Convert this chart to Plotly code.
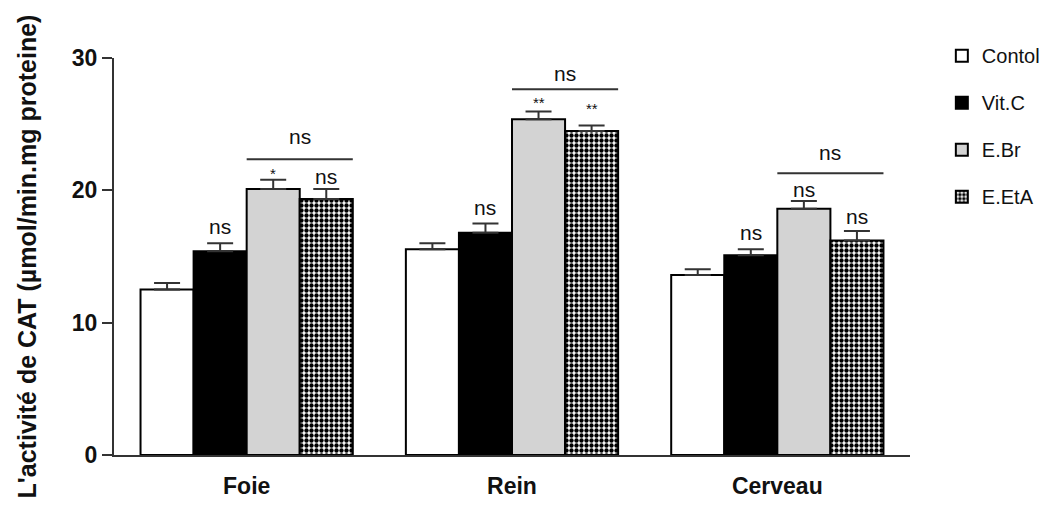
import plotly.graph_objects as go

categories = ["Foie", "Rein", "Cerveau"]
series_names = ["Contol", "Vit.C", "E.Br", "E.EtA"]

control_vals = [12.5, 15.55, 13.6]
vitc_vals = [15.4, 16.8, 15.1]
ebr_vals = [20.1, 25.37, 18.6]
eeta_vals = [19.35, 24.49, 16.2]

control_err = [0.5, 0.45, 0.43]
vitc_err = [0.6, 0.7, 0.45]
ebr_err = [0.7, 0.58, 0.6]
eeta_err = [0.75, 0.4, 0.73]

y_ticks = [0, 10, 20, 30]

# significance labels per group: (series index, label, label height)
sig_labels = [
    [(1, "ns", 17.25), (2, "*", 21.3), (3, "ns", 21.03)],
    [(1, "ns", 18.67), (2, "**", 26.6), (3, "**", 26.2)],
    [(1, "ns", 16.8), (2, "ns", 20.1), (3, "ns", 18.0)],
]
bracket_heights = [22.35, 27.64, 21.29]
bracket_label_heights = [24.05, 28.8, 22.85]

FONT = "Liberation Sans, Arial, sans-serif"
TXT = "#111111"
AX = "#333333"

fig = go.Figure()

styles = [
    dict(color="white"),
    dict(color="black"),
    dict(color="#d3d3d3"),
    dict(color="white", pattern=dict(shape=".", fgcolor="black", bgcolor="white",
                                      size=5, solidity=0.6, fgopacity=1)),
]
vals = [control_vals, vitc_vals, ebr_vals, eeta_vals]
errs = [control_err, vitc_err, ebr_err, eeta_err]

for i, name in enumerate(series_names):
    m = dict(styles[i])
    m["line"] = dict(color="black", width=2)
    fig.add_trace(go.Bar(
        x=categories, y=vals[i], name=name, marker=m,
        legendgroup=name,
        error_y=dict(type="data", symmetric=False, array=errs[i],
                     arrayminus=[0] * len(errs[i]),
                     color=AX, thickness=2, width=13),
    ))

annotations = []
shapes = []
offsets = [-0.3, -0.1, 0.1, 0.3]
for g in range(len(categories)):
    for (si, lab, h) in sig_labels[g]:
        annotations.append(dict(
            x=g + offsets[si], y=h, xref="x", yref="y", text=lab,
            showarrow=False, yanchor="middle",
            font=dict(family=FONT, size=21 if lab == "ns" else 15, color=TXT),
        ))
    shapes.append(dict(type="line", xref="x", yref="y",
                       x0=g + 0.0, x1=g + 0.4,
                       y0=bracket_heights[g], y1=bracket_heights[g],
                       line=dict(color=AX, width=2)))
    annotations.append(dict(
        x=g + 0.2, y=bracket_label_heights[g], xref="x", yref="y", text="ns",
        showarrow=False, yanchor="middle",
        font=dict(family=FONT, size=21, color=TXT),
    ))

fig.update_layout(
    width=1057, height=513,
    margin=dict(l=114, r=147, t=58, b=58),
    paper_bgcolor="white", plot_bgcolor="white",
    barmode="group", bargap=0.2, bargroupgap=0,
    showlegend=True,
    legend=dict(x=1.04, y=1.055, xanchor="left", yanchor="top",
                font=dict(family=FONT, size=20, color=TXT),
                tracegroupgap=18, bgcolor="rgba(0,0,0,0)"),
    annotations=annotations, shapes=shapes,
    font=dict(family=FONT, color=TXT),
)
fig.update_xaxes(
    range=[-0.5, 2.5], showline=True, linecolor=AX, linewidth=2,
    ticks="", showgrid=False, zeroline=False,
    tickfont=dict(family=FONT, size=23, color=TXT, weight="bold"),
    ticklabelstandoff=9,
)
fig.update_yaxes(
    range=[0, 30], tickvals=y_ticks, showline=True, linecolor=AX, linewidth=2,
    ticks="outside", ticklen=10, tickwidth=2, tickcolor=AX,
    showgrid=False, zeroline=False,
    tickfont=dict(family=FONT, size=23, color=TXT, weight="bold"),
    title=dict(text="L'activité de CAT (µmol/min.mg proteine)",
               font=dict(family=FONT, size=25, color=TXT, weight="bold"),
               standoff=28),
)

fig.write_html("out.html")
